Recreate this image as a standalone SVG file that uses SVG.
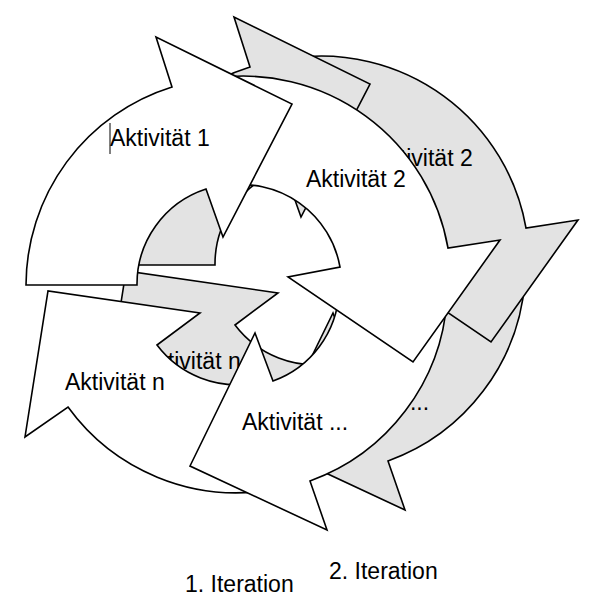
<svg xmlns="http://www.w3.org/2000/svg" xmlns:xlink="http://www.w3.org/1999/xlink" width="590" height="611" viewBox="0 0 590 611">
<style>
.w{fill:#ffffff;stroke:#000;stroke-width:1.6;stroke-linejoin:miter}
.g{fill:#e3e3e3;stroke:#000;stroke-width:1.6;stroke-linejoin:miter}
text{font-family:"Liberation Sans",Arial,sans-serif;font-size:23px;fill:#000}
</style>
<defs>
<path id="p1" d="M26,285 A208,208 0 0 1 172,87 L156,37 L292,104 L223,237 L206,189 A100,100 0 0 0 137,285 Z"/>
<path id="p2" d="M215,78 A208,208 0 0 1 448,248 L500,240 L413,362 L288,277 L340,267 A100,100 0 0 0 225,186 Z"/>
<path id="p3" d="M447,300 A208,208 0 0 1 310,481 L327,530 L190,466 L255,333 L273,381 A100,100 0 0 0 339,292 Z"/>
<path id="p4" d="M270,490 A208,208 0 0 1 68,407 L25,437 L48,291 L200,313 L157,345 A100,100 0 0 0 255,383 Z"/>
</defs>
<g id="iteration2">
<g id="it2-aktn"><use xlink:href="#p4" href="#p4" class="g" transform="translate(78,-20)"/><text x="141" y="369">Aktivität n</text></g>
<g id="it2-aktdots"><use xlink:href="#p3" href="#p3" class="g" transform="translate(78,-20)"/><text x="323" y="410">Aktivität ...</text></g>
<g id="it2-akt2"><use xlink:href="#p2" href="#p2" class="g" transform="translate(78,-20)"/><text x="373" y="166">Aktivität 2</text></g>
<g id="it2-akt1"><use xlink:href="#p1" href="#p1" class="g" transform="translate(78,-20)"/></g>
</g>
<g id="iteration1">
<g id="it1-aktn"><use xlink:href="#p4" href="#p4" class="w"/><text x="65" y="390">Aktivität n</text></g>
<g id="it1-aktdots"><use xlink:href="#p3" href="#p3" class="w"/><text x="242" y="430">Aktivität ...</text></g>
<g id="it1-akt2"><use xlink:href="#p2" href="#p2" class="w"/><text x="306" y="187">Aktivität 2</text></g>
<g id="it1-akt1"><use xlink:href="#p1" href="#p1" class="w"/><text x="110" y="146">Aktivität 1</text><line x1="110" y1="123" x2="110" y2="154" stroke="#000" stroke-width="1"/></g>
</g>
<g id="labels">
<text x="185" y="592">1. Iteration</text>
<text x="329" y="579">2. Iteration</text>
</g>
</svg>
